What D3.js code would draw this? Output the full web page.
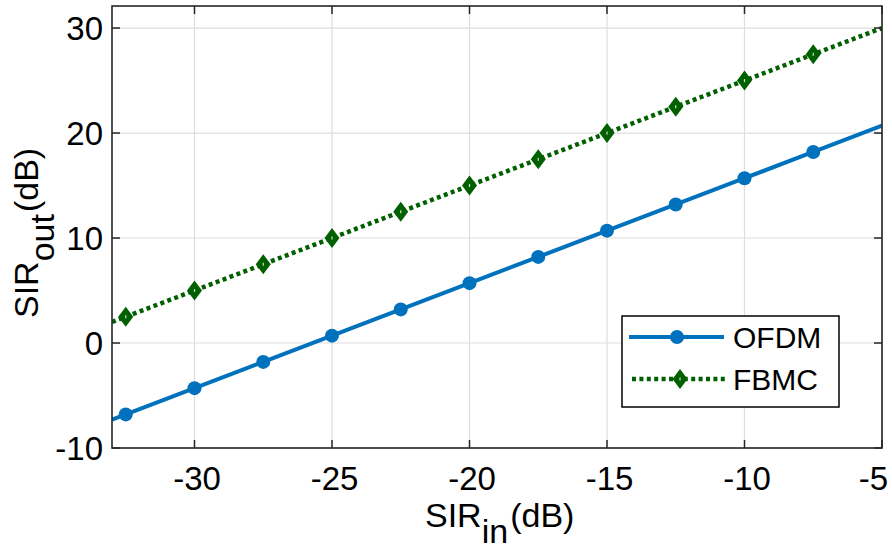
<!DOCTYPE html>
<html>
<head>
<meta charset="utf-8">
<script src="https://cdn.jsdelivr.net/npm/d3@7"></script>
<style>
  body { margin: 0; background: #fff; }
  svg { display: block; }
  text { font-family: "Liberation Sans", Arial, Helvetica, sans-serif; fill: #000; }
</style>
</head>
<body>
<script>
// Input SIR (dB) sampled along each curve
const sirIn = [-33, -32.5, -30, -27.5, -25, -22.5, -20, -17.5, -15, -12.5, -10, -7.5, -5];
// Input SIR values that carry a marker
const markerSirIn = [-32.5, -30, -27.5, -25, -22.5, -20, -17.5, -15, -12.5, -10, -7.5];
// Output SIR (dB) per scheme
const ofdmOut = [-7.3, -6.8, -4.3, -1.8, 0.7, 3.2, 5.7, 8.2, 10.7, 13.2, 15.7, 18.2, 20.7];
const fbmcOut = [2, 2.5, 5, 7.5, 10, 12.5, 15, 17.5, 20, 22.5, 25, 27.5, 30];
// Axis ticks
const xTicks = [-30, -25, -20, -15, -10, -5];
const yTicks = [-10, 0, 10, 20, 30];
const seriesNames = ["OFDM", "FBMC"];

const W = 892, H = 549;
const plot = { left: 112, right: 882, top: 6, bottom: 448 };

const svg = d3.select("body").append("svg").attr("width", W).attr("height", H);

const x = d3.scaleLinear().domain([-33, -5]).range([plot.left, plot.right]);
const y = d3.scaleLinear().domain([-10, 32.1]).range([plot.bottom, plot.top]);

const blue = "#0072bd", green = "#006000";

// grid
const grid = svg.append("g");
grid.selectAll(".gx").data(xTicks).join("line")
  .attr("x1", d => x(d)).attr("x2", d => x(d))
  .attr("y1", plot.top).attr("y2", plot.bottom)
  .attr("stroke", "#dedede").attr("stroke-width", 1.2);
grid.selectAll(".gy").data(yTicks).join("line")
  .attr("x1", plot.left).attr("x2", plot.right)
  .attr("y1", d => y(d)).attr("y2", d => y(d))
  .attr("stroke", "#dedede").attr("stroke-width", 1.2);

// clip for the curves
svg.append("clipPath").attr("id", "clip").append("rect")
  .attr("x", plot.left).attr("y", plot.top)
  .attr("width", plot.right - plot.left).attr("height", plot.bottom - plot.top);

const line = d3.line().x(d => x(d[0])).y(d => y(d[1]));
const ofdmPts = sirIn.map((v, i) => [v, ofdmOut[i]]);
const fbmcPts = sirIn.map((v, i) => [v, fbmcOut[i]]);
const isMarked = d => markerSirIn.includes(d[0]);

const curves = svg.append("g").attr("clip-path", "url(#clip)");
curves.append("path").datum(fbmcPts).attr("d", line)
  .attr("fill", "none").attr("stroke", green).attr("stroke-width", 4.5)
  .attr("stroke-dasharray", "4,3.4");
curves.append("path").datum(ofdmPts).attr("d", line)
  .attr("fill", "none").attr("stroke", blue).attr("stroke-width", 4);

function diamond(g, cx, cy) {
  g.append("path")
    .attr("d", `M${cx},${cy - 10}L${cx + 7.5},${cy}L${cx},${cy + 10}L${cx - 7.5},${cy}Z`)
    .attr("fill", green);
  g.append("rect").attr("x", cx - 0.6).attr("y", cy - 1.5).attr("width", 1.2).attr("height", 3)
    .attr("fill", "#fff").attr("opacity", 0.8);
}

ofdmPts.filter(isMarked).forEach(d => {
  curves.append("circle").attr("cx", x(d[0])).attr("cy", y(d[1])).attr("r", 7).attr("fill", blue);
});
fbmcPts.filter(isMarked).forEach(d => diamond(curves, x(d[0]), y(d[1])));

// axes box and ticks (inward, mirrored)
const axisColor = "#262626";
const axes = svg.append("g");
const tickLen = 8;
axes.selectAll(".tb").data(xTicks).join("line")
  .attr("x1", d => x(d)).attr("x2", d => x(d))
  .attr("y1", plot.bottom).attr("y2", plot.bottom - tickLen)
  .attr("stroke", axisColor).attr("stroke-width", 1.5);
axes.selectAll(".tt").data(xTicks).join("line")
  .attr("x1", d => x(d)).attr("x2", d => x(d))
  .attr("y1", plot.top).attr("y2", plot.top + tickLen)
  .attr("stroke", axisColor).attr("stroke-width", 1.5);
axes.selectAll(".tl").data(yTicks).join("line")
  .attr("x1", plot.left).attr("x2", plot.left + tickLen)
  .attr("y1", d => y(d)).attr("y2", d => y(d))
  .attr("stroke", axisColor).attr("stroke-width", 1.5);
axes.selectAll(".tr").data(yTicks).join("line")
  .attr("x1", plot.right).attr("x2", plot.right - tickLen)
  .attr("y1", d => y(d)).attr("y2", d => y(d))
  .attr("stroke", axisColor).attr("stroke-width", 1.5);
axes.append("rect")
  .attr("x", plot.left).attr("y", plot.top)
  .attr("width", plot.right - plot.left).attr("height", plot.bottom - plot.top)
  .attr("fill", "none").attr("stroke", axisColor).attr("stroke-width", 1.6);

// tick labels (the last one is kept inside the canvas)
const lastX = xTicks[xTicks.length - 1];
svg.append("g").selectAll("text").data(xTicks).join("text")
  .attr("x", d => d === lastX ? W - 4 : x(d) + 2.5).attr("y", 490)
  .attr("text-anchor", d => d === lastX ? "end" : "middle").attr("font-size", 33)
  .text(d => d);
svg.append("g").selectAll("text").data(yTicks).join("text")
  .attr("x", 103).attr("y", d => y(d)).attr("dy", "0.35em")
  .attr("text-anchor", "end").attr("font-size", 33)
  .text(d => d);

// axis titles with subscripts
const xl = svg.append("text").attr("x", 425).attr("y", 527).attr("font-size", 34);
xl.append("tspan").text("SIR");
xl.append("tspan").attr("dy", 16).text("in");
xl.append("tspan").attr("dy", -16).attr("dx", 2).text("(dB)");

const yl = svg.append("text").attr("transform", "translate(38,318) rotate(-90)").attr("font-size", 34);
yl.append("tspan").text("SIR");
yl.append("tspan").attr("dy", 16).text("out");
yl.append("tspan").attr("dy", -16).attr("dx", 2).text("(dB)");

// legend
const lg = svg.append("g");
lg.append("rect").attr("x", 622).attr("y", 316).attr("width", 217).attr("height", 91)
  .attr("fill", "#fff").attr("stroke", "#000").attr("stroke-width", 1.5);
const legendRows = [
  { name: seriesNames[0], y: 337, x1: 629, x2: 724, mx: 677 },
  { name: seriesNames[1], y: 379, x1: 632, x2: 728, mx: 680 }
];
lg.append("line").attr("x1", legendRows[0].x1).attr("x2", legendRows[0].x2)
  .attr("y1", legendRows[0].y).attr("y2", legendRows[0].y)
  .attr("stroke", blue).attr("stroke-width", 4);
lg.append("circle").attr("cx", legendRows[0].mx).attr("cy", legendRows[0].y).attr("r", 7).attr("fill", blue);
lg.append("line").attr("x1", legendRows[1].x1).attr("x2", legendRows[1].x2)
  .attr("y1", legendRows[1].y).attr("y2", legendRows[1].y)
  .attr("stroke", green).attr("stroke-width", 4.5).attr("stroke-dasharray", "4,3.4");
diamond(lg, legendRows[1].mx, legendRows[1].y);
lg.selectAll("text").data(legendRows).join("text")
  .attr("x", 733).attr("y", d => d.y).attr("dy", "0.36em")
  .attr("font-size", 30).text(d => d.name);
</script>
</body>
</html>
